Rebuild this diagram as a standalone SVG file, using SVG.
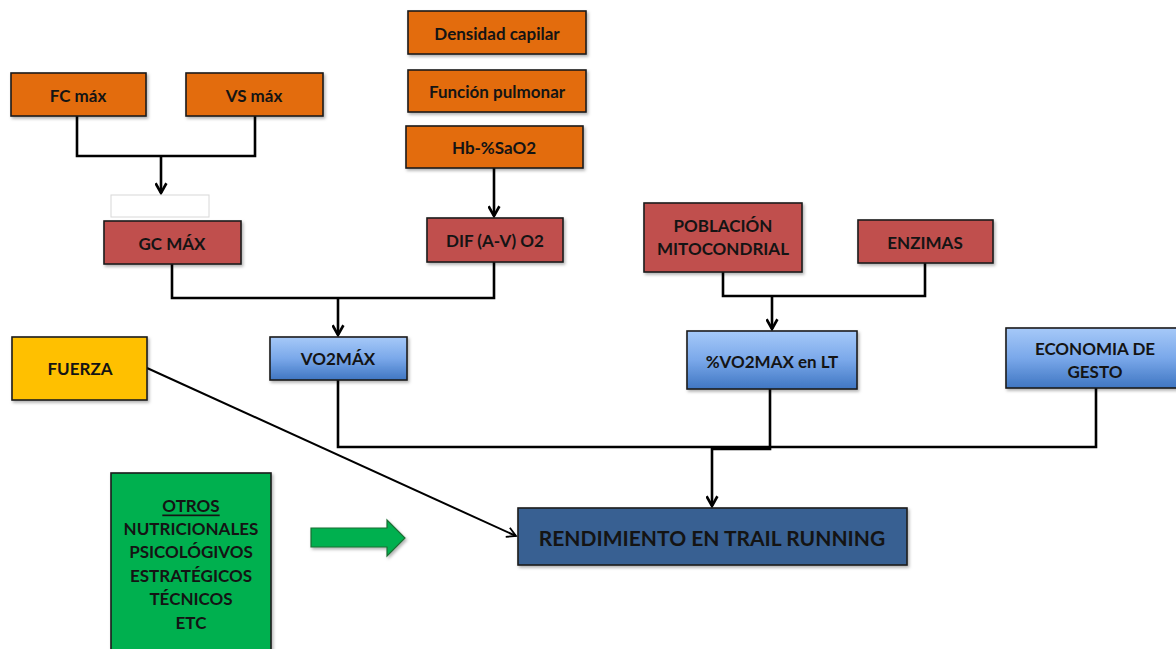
<svg xmlns="http://www.w3.org/2000/svg" width="1176" height="649" viewBox="0 0 1176 649">
  <defs>
    <style>
      .box { stroke: #1c1c1c; stroke-width: 1.6; filter: url(#shadow); }
      .orange { fill: #e36c0a; }
      .red { fill: #c0504d; }
      .blue { fill: url(#blueGrad); }
      .yellow { fill: #ffc000; }
      .green { fill: #00b050; }
      .navy { fill: #376092; }
      .lbl { font-family: Lato, "Open Sans", "Liberation Sans", sans-serif; font-weight: bold; font-size: 17px; fill: #141414; text-anchor: middle; dominant-baseline: central; }
      .big { font-size: 21px; }
      .wire { fill: none; stroke: #000; stroke-width: 2.6; }
      .thin { fill: none; stroke: #000; stroke-width: 2; }
    </style>
    <linearGradient id="blueGrad" x1="0" y1="0" x2="0" y2="1">
      <stop offset="0" stop-color="#a6c9f8"/>
      <stop offset="0.5" stop-color="#7aa8ea"/>
      <stop offset="1" stop-color="#3f76c2"/>
    </linearGradient>
    <filter id="shadow" x="-10%" y="-10%" width="130%" height="140%">
      <feDropShadow dx="1.5" dy="2" stdDeviation="1.5" flood-color="#000" flood-opacity="0.3"/>
    </filter>
    <marker id="head" viewBox="0 0 12 12" refX="10" refY="6" markerWidth="5" markerHeight="5" orient="auto" markerUnits="strokeWidth">
      <path d="M1,1 L10,6 L1,11" fill="none" stroke="#000" stroke-width="2.4"/>
    </marker>
    <marker id="headThin" viewBox="0 0 12 12" refX="10" refY="6" markerWidth="6" markerHeight="6" orient="auto" markerUnits="strokeWidth">
      <path d="M1,1 L10,6 L1,11" fill="none" stroke="#000" stroke-width="1.8"/>
    </marker>
  </defs>

  <rect width="1176" height="649" fill="#ffffff"/>

  <!-- connectors -->
  <g id="connectors">
    <!-- FC / VS to GC -->
    <path class="wire" d="M77,116 V156 H255 V116"/>
    <path class="wire" d="M161,156 V193" marker-end="url(#head)"/>
    <!-- Hb to DIF -->
    <path class="wire" d="M494,168 V216" marker-end="url(#head)"/>
    <!-- GC / DIF to VO2MAX -->
    <path class="wire" d="M172,264 V298 H494 V262"/>
    <path class="wire" d="M338,298 V335" marker-end="url(#head)"/>
    <!-- Poblacion / Enzimas to %VO2MAX -->
    <path class="wire" d="M723,272 V296 H925 V263"/>
    <path class="wire" d="M772,296 V329" marker-end="url(#head)"/>
    <!-- VO2MAX / %VO2MAX / Economia to Rendimiento -->
    <path class="wire" d="M338,380 V447 H1096 V388"/>
    <path class="wire" d="M770,389 V449 H712"/>
    <path class="wire" d="M712,448 V506" marker-end="url(#head)"/>
    <!-- Fuerza to Rendimiento -->
    <path class="thin" d="M147,368 L516,536" marker-end="url(#headThin)"/>
    <!-- block arrow from Otros -->
    <path d="M311,528 H387 V520 L405,538 L387,556 V547 H311 Z" fill="#00b050" stroke="#1c6e33" stroke-width="1.2" filter="url(#shadow)"/>
  </g>

  <!-- nodes -->
  <g id="fc-max">
    <rect class="box orange" x="11" y="73" width="135" height="43"/>
    <text class="lbl" x="78" y="95">FC máx</text>
  </g>
  <g id="vs-max">
    <rect class="box orange" x="186" y="73" width="137" height="43"/>
    <text class="lbl" x="254" y="95">VS máx</text>
  </g>
  <g id="blank">
    <rect x="111" y="195" width="98" height="22" fill="#ffffff" stroke="#d8d8d8" stroke-width="1"/>
  </g>
  <g id="gc-max">
    <rect class="box red" x="104" y="221" width="137" height="43"/>
    <text class="lbl" x="172" y="243">GC MÁX</text>
  </g>
  <g id="densidad-capilar">
    <rect class="box orange" x="408" y="11" width="178" height="43"/>
    <text class="lbl" x="497" y="33">Densidad capilar</text>
  </g>
  <g id="funcion-pulmonar">
    <rect class="box orange" x="408" y="70" width="178" height="42"/>
    <text class="lbl" x="497" y="91">Función pulmonar</text>
  </g>
  <g id="hb-sao2">
    <rect class="box orange" x="406" y="126" width="177" height="42"/>
    <text class="lbl" x="494" y="147">Hb-%SaO2</text>
  </g>
  <g id="dif-av-o2">
    <rect class="box red" x="427" y="218" width="136" height="44"/>
    <text class="lbl" x="495" y="240">DIF (A-V) O2</text>
  </g>
  <g id="poblacion-mitocondrial">
    <rect class="box red" x="644" y="203" width="158" height="69"/>
    <text class="lbl" x="723" y="225">POBLACIÓN</text>
    <text class="lbl" x="723" y="248">MITOCONDRIAL</text>
  </g>
  <g id="enzimas">
    <rect class="box red" x="858" y="220" width="135" height="43"/>
    <text class="lbl" x="925" y="242">ENZIMAS</text>
  </g>
  <g id="vo2max">
    <rect class="box blue" x="270" y="337" width="137" height="43"/>
    <text class="lbl" x="338" y="358">VO2MÁX</text>
  </g>
  <g id="pct-vo2max-lt">
    <rect class="box blue" x="687" y="331" width="170" height="58"/>
    <text class="lbl" x="772" y="361">%VO2MAX en LT</text>
  </g>
  <g id="economia-gesto">
    <rect class="box blue" x="1006" y="328" width="178" height="60"/>
    <text class="lbl" x="1095" y="348">ECONOMIA DE</text>
    <text class="lbl" x="1095" y="371">GESTO</text>
  </g>
  <g id="fuerza">
    <rect class="box yellow" x="12" y="337" width="135" height="63"/>
    <text class="lbl" x="80" y="368">FUERZA</text>
  </g>
  <g id="otros">
    <rect class="box green" x="111" y="473" width="160" height="180"/>
    <text class="lbl" x="191" y="505" text-decoration="underline">OTROS</text>
    <text class="lbl" x="191" y="528">NUTRICIONALES</text>
    <text class="lbl" x="191" y="551">PSICOLÓGIVOS</text>
    <text class="lbl" x="191" y="575">ESTRATÉGICOS</text>
    <text class="lbl" x="191" y="598">TÉCNICOS</text>
    <text class="lbl" x="191" y="622">ETC</text>
  </g>
  <g id="rendimiento">
    <rect class="box navy" x="518" y="508" width="389" height="57"/>
    <text class="lbl big" x="712" y="537">RENDIMIENTO EN TRAIL RUNNING</text>
  </g>
</svg>
